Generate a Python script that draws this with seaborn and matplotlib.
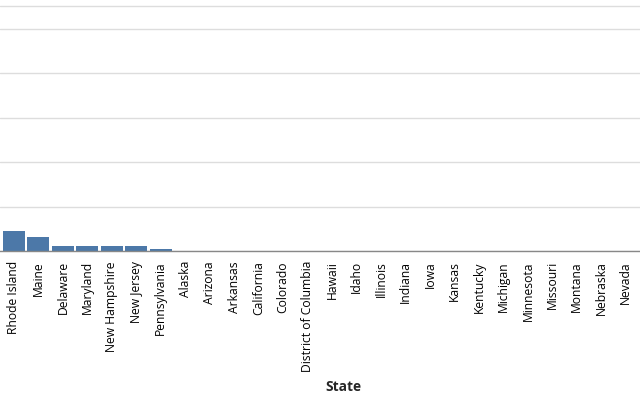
import matplotlib
matplotlib.use("Agg")
import matplotlib.pyplot as plt
import pandas as pd
import seaborn as sns

states = [
    "Rhode Island", "Maine", "Delaware", "Maryland", "New Hampshire",
    "New Jersey", "Pennsylvania", "Alaska", "Arizona", "Arkansas",
    "California", "Colorado", "District of Columbia", "Hawaii", "Idaho",
    "Illinois", "Indiana", "Iowa", "Kansas", "Kentucky", "Michigan",
    "Minnesota", "Missouri", "Montana", "Nebraska", "Nevada",
]
counts = [9.3, 6.2, 2.2, 2.2, 2.2, 2.2, 1.2] + [0] * 19
y_ticks = [0, 20, 40, 60, 80, 100, 110]

df = pd.DataFrame({"State": states, "Count": counts})

sns.set_theme(style="white")
plt.rcParams["font.family"] = ["Open Sans", "DejaVu Sans"]

fig = plt.figure(figsize=(6.4, 4.0), dpi=100)
ax = fig.add_axes([0, 1 - 251.3 / 400, 1, 251.3 / 400])

sns.barplot(data=df, x="State", y="Count", color="#4c78a8", width=0.9,
            saturation=1, linewidth=0, ax=ax, zorder=3)

ax.set_xlim(-0.572, 25.58)
ax.set_ylim(0, 112.9)
ax.set_yticks(y_ticks)
ax.set_yticklabels([])
ax.tick_params(axis="y", length=0)
ax.grid(axis="y", color="#dddddd", linewidth=1, zorder=0)
ax.set_ylabel("")

for side in ["top", "right", "left"]:
    ax.spines[side].set_visible(False)
ax.spines["bottom"].set_color("#888888")
ax.spines["bottom"].set_linewidth(1)
ax.spines["bottom"].set_zorder(4)

ax.tick_params(axis="x", length=5, width=1, color="#888888", pad=2,
               labelsize=8.7, labelcolor="#000000", rotation=90)
ax.set_xlabel("")
fig.text(343 / 640, 1 - 387 / 400, "State", ha="center", va="center",
         fontsize=9.9, fontweight="bold")

fig.savefig("out.png", dpi=100)
